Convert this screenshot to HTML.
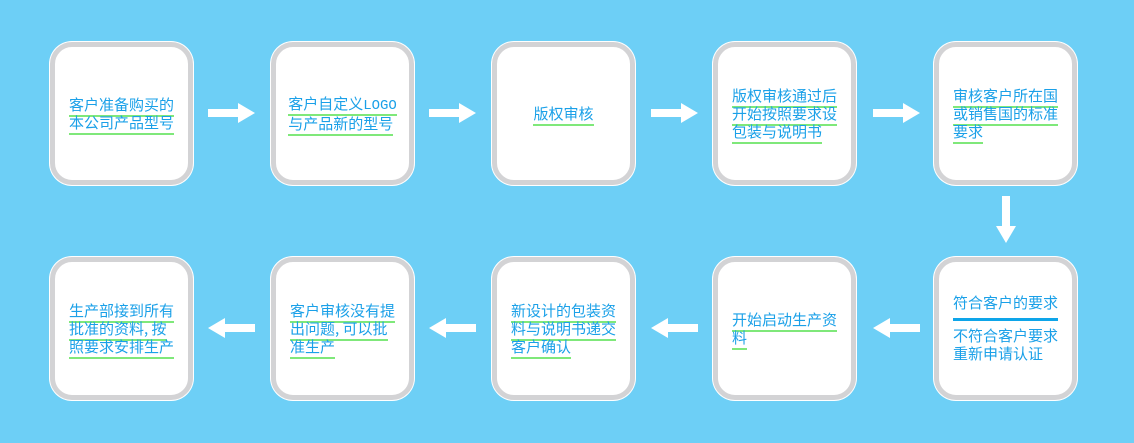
<!DOCTYPE html><html><head><meta charset="utf-8"><style>
body{margin:0;width:1134px;height:443px;background:#6dcff6;position:relative;overflow:hidden;font-family:"Liberation Mono","Noto Sans CJK SC",monospace}
.b{position:absolute;width:133px;height:133px;border:5px solid #d3d3d5;border-radius:22px;background:#fff;box-shadow:0 0 0 1px #fff;display:flex;align-items:center;justify-content:center}
.t{font-size:15px;line-height:18px;color:#1aa0e8;max-width:112px;font-family:"Noto Sans CJK SC",sans-serif}
.t span{border-bottom:2px solid #7fe87a}
.m{font-family:"Liberation Mono",monospace;font-size:14px}
.a{position:absolute}
</style></head><body>
<div class="b" style="left:50px;top:42px"><div class="t"><span>客户准备购买的</span><br><span>本公司产品型号</span></div></div>
<div class="b" style="left:271px;top:42px"><div class="t"><span>客户自定义<b class="m" style="font-weight:normal">LOGO</b></span><br><span>与产品新的型号</span></div></div>
<div class="b" style="left:492px;top:42px"><div class="t"><span>版权审核</span></div></div>
<div class="b" style="left:713px;top:42px"><div class="t"><span>版权审核通过后</span><br><span>开始按照要求设</span><br><span>包装与说明书</span></div></div>
<div class="b" style="left:934px;top:42px"><div class="t"><span>审核客户所在国</span><br><span>或销售国的标准</span><br><span>要求</span></div></div>
<div class="b" style="left:50px;top:257px"><div class="t"><span>生产部接到所有</span><br><span>批准的资料, 按</span><br><span>照要求安排生产</span></div></div>
<div class="b" style="left:271px;top:257px"><div class="t"><span>客户审核没有提</span><br><span>出问题, 可以批</span><br><span>准生产</span></div></div>
<div class="b" style="left:492px;top:257px"><div class="t"><span>新设计的包装资</span><br><span>料与说明书递交</span><br><span>客户确认</span></div></div>
<div class="b" style="left:713px;top:257px"><div class="t"><span>开始启动生产资</span><br><span>料</span></div></div>
<div class="b" style="left:934px;top:257px"><div class="t" style="width:105px"><div style="border-bottom:3px solid #0ea5e9;padding-bottom:6px;margin-bottom:6px">符合客户的要求</div>不符合客户要求<br>重新申请认证</div></div>
<svg class="a" style="left:0;top:0" width="1134" height="443">
<g fill="#fff">
<polygon points="208,109 238,109 238,103 255,113 238,123 238,117 208,117"/>
<polygon points="429,109 459,109 459,103 476,113 459,123 459,117 429,117"/>
<polygon points="651,109 681,109 681,103 698,113 681,123 681,117 651,117"/>
<polygon points="873,109 903,109 903,103 920,113 903,123 903,117 873,117"/>
<polygon points="1002,196 1010,196 1010,226 1016,226 1006,243 996,226 1002,226"/>
<polygon points="255,324 225,324 225,318 208,328 225,338 225,332 255,332"/>
<polygon points="476,324 446,324 446,318 429,328 446,338 446,332 476,332"/>
<polygon points="698,324 668,324 668,318 651,328 668,338 668,332 698,332"/>
<polygon points="920,324 890,324 890,318 873,328 890,338 890,332 920,332"/>
</g></svg>
</body></html>
